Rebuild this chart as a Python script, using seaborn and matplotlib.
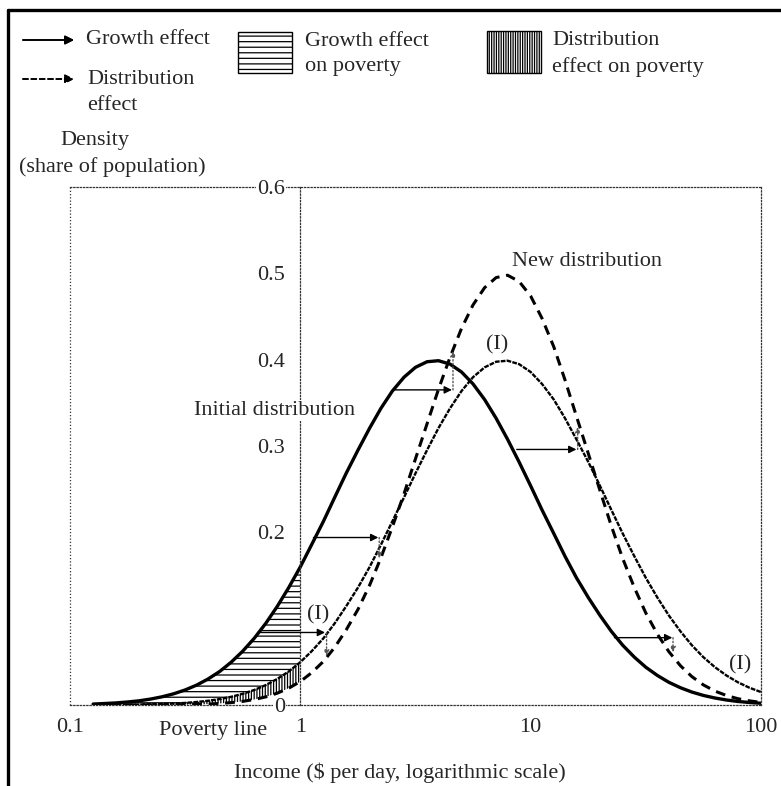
"""
Growth and distribution effects on poverty
Recreated density chart with seaborn / matplotlib
"""

import pandas as pd
import matplotlib.pyplot as plt
import seaborn as sns
from matplotlib.patches import Rectangle
from matplotlib.lines import Line2D

# Set style
sns.set_style("white")
plt.rcParams['font.family'] = ['Liberation Serif', 'DejaVu Serif']
plt.rcParams['font.size'] = 16
plt.rcParams['hatch.linewidth'] = 0.9

W, H = 781, 786

# Income ($ per day)
income = [0.126, 0.141, 0.158, 0.178, 0.2, 0.224, 0.251, 0.282, 0.316, 0.355,
          0.398, 0.447, 0.501, 0.562, 0.631, 0.708, 0.794, 0.891, 1.0,
          1.12, 1.26, 1.41, 1.58, 1.78, 2.0, 2.24, 2.51, 2.82, 3.16,
          3.55, 3.98, 4.47, 5.01, 5.62, 6.31, 7.08, 7.94, 8.91, 10.0,
          11.2, 12.6, 14.1, 15.8, 17.8, 20.0, 22.4, 25.1, 28.2, 31.6,
          35.5, 39.8, 44.7, 50.1, 56.2, 63.1, 70.8, 79.4, 89.1, 100.0]

# Initial distribution (solid)
initial = [0.0011, 0.0017, 0.0024, 0.0035, 0.0049, 0.0069, 0.0095, 0.0130, 0.0174, 0.0231,
           0.0302, 0.0389, 0.0496, 0.0623, 0.0773, 0.0946, 0.1142, 0.1361, 0.1600,
           0.1858, 0.2128, 0.2405, 0.2682, 0.2953, 0.3208, 0.3438, 0.3637, 0.3797, 0.3911,
           0.3976, 0.3988, 0.3948, 0.3857, 0.3719, 0.3538, 0.3321, 0.3077, 0.2814, 0.2538,
           0.2260, 0.1986, 0.1722, 0.1474, 0.1244, 0.1037, 0.0853, 0.0692, 0.0554, 0.0438,
           0.0342, 0.0263, 0.0200, 0.0150, 0.0111, 0.0081, 0.0058, 0.0041, 0.0029, 0.0020]

# Growth only, distribution unchanged: curve (I)
growth_only = [0.0001, 0.0001, 0.0002, 0.0003, 0.0005, 0.0008, 0.0011, 0.0017, 0.0024, 0.0035,
               0.0049, 0.0069, 0.0095, 0.0130, 0.0174, 0.0231, 0.0302, 0.0389, 0.0496,
               0.0623, 0.0773, 0.0946, 0.1142, 0.1361, 0.1600, 0.1858, 0.2128, 0.2405, 0.2682,
               0.2953, 0.3208, 0.3438, 0.3637, 0.3797, 0.3911, 0.3976, 0.3988, 0.3948, 0.3857,
               0.3719, 0.3538, 0.3321, 0.3077, 0.2814, 0.2538, 0.2260, 0.1986, 0.1722, 0.1474,
               0.1244, 0.1037, 0.0853, 0.0692, 0.0554, 0.0438, 0.0342, 0.0263, 0.0200, 0.0150]

# New distribution (dashed)
new_dist = [0.0000, 0.0000, 0.0000, 0.0000, 0.0000, 0.0001, 0.0001, 0.0002, 0.0004, 0.0007,
            0.0011, 0.0018, 0.0028, 0.0042, 0.0064, 0.0094, 0.0137, 0.0195, 0.0272,
            0.0374, 0.0505, 0.0668, 0.0868, 0.1108, 0.1389, 0.1708, 0.2064, 0.2447, 0.2850,
            0.3258, 0.3658, 0.4031, 0.4362, 0.4634, 0.4834, 0.4951, 0.4978, 0.4906, 0.4737,
            0.4479, 0.4149, 0.3764, 0.3345, 0.2911, 0.2483, 0.2073, 0.1696, 0.1359, 0.1067,
            0.0820, 0.0618, 0.0455, 0.0329, 0.0233, 0.0161, 0.0110, 0.0073, 0.0048, 0.0030]

poverty_line = 1.0

# Growth effect arrows: start income, end income, density
growth_start = [1.14, 2.58, 8.7, 0.652, 23.1]
growth_end = [2.18, 4.55, 15.8, 1.28, 41.2]
growth_y = [0.194, 0.365, 0.296, 0.084, 0.078]

# Distribution effect arrows: income, from density, to density
dist_x = [2.2, 4.6, 16.0, 1.3, 41.5]
dist_from = [0.194, 0.365, 0.296, 0.084, 0.078]
dist_to = [0.170, 0.410, 0.322, 0.057, 0.061]

y_ticks = [0, 0.2, 0.3, 0.4, 0.5, 0.6]
y_tick_labels = ['0', '0.2', '0.3', '0.4', '0.5', '0.6']
x_ticks = [0.1, 1, 10, 100]
x_tick_labels = ['0.1', '1', '10', '100']

df = pd.DataFrame({'income': income, 'initial': initial,
                   'growth_only': growth_only, 'new_dist': new_dist})
poor = df[df['income'] <= poverty_line]


def fx(px):
    return px / W


def fy(py):
    return 1 - py / H


fig = plt.figure(figsize=(W / 100, H / 100), dpi=100)
ax = fig.add_axes([fx(70), fy(705), (761 - 70) / W, (705 - 187) / H])

DOT = (0, (1, 1.6))

# hatched poverty areas
ax.fill_between(poor['income'], poor['growth_only'], poor['initial'],
                facecolor='none', edgecolor='black', hatch='---', lw=0, zorder=1)
ax.fill_between(poor['income'], poor['new_dist'], poor['growth_only'],
                facecolor='none', edgecolor='black', hatch='||||||', lw=0, zorder=1)

# curves
sns.lineplot(data=df, x='income', y='initial', ax=ax, color='black', lw=2.4)
sns.lineplot(data=df, x='income', y='growth_only', ax=ax, color='black', lw=1.7,
             linestyle=(0, (2, 0.5)))
sns.lineplot(data=df, x='income', y='new_dist', ax=ax, color='black', lw=2.2,
             linestyle=(0, (3.2, 2.2)))

# effect arrows
for x0, x1, y in zip(growth_start, growth_end, growth_y):
    ax.annotate('', xy=(x1, y), xytext=(x0, y),
                arrowprops=dict(arrowstyle='-|>', color='black', lw=1.0,
                                mutation_scale=11, shrinkA=0, shrinkB=0))
for x, y0, y1 in zip(dist_x, dist_from, dist_to):
    ax.annotate('', xy=(x, y1), xytext=(x, y0),
                arrowprops=dict(arrowstyle='-|>', color='#555555', lw=1.0,
                                linestyle=DOT, mutation_scale=8, shrinkA=0, shrinkB=0))

ax.set_xscale('log')
ax.set_xlim(0.1, 100)
ax.set_ylim(0, 0.6)
ax.set_xticks(x_ticks)
ax.set_xticklabels(x_tick_labels)
ax.set_yticks(y_ticks)
ax.set_yticklabels(y_tick_labels)
ax.minorticks_off()
ax.tick_params(axis='both', length=0, labelsize=16)
ax.tick_params(axis='y', pad=11)
ax.tick_params(axis='x', pad=9)

# dotted frame, y axis sits on the poverty line
for side in ['top', 'right', 'bottom', 'left']:
    ax.spines[side].set_linestyle(DOT)
    ax.spines[side].set_linewidth(0.9)
    ax.spines[side].set_color('#333333')
ax.spines['left'].set_position(('data', poverty_line))
ax.axvline(0.1, color='#333333', lw=0.9, linestyle=DOT, clip_on=False)
ax.yaxis.set_zorder(3)
for lbl in ax.get_yticklabels():
    lbl.set_bbox(dict(facecolor='white', edgecolor='none', pad=1))
ax.set_ylabel('')

ax.set_xlabel('Income ($ per day, logarithmic scale)', fontsize=16)
ax.xaxis.label.set_va('center')
ax.xaxis.set_label_coords((400 - 70) / 691, -(773 - 705) / 518)

# annotations in the plot
ax.text(0.77, 0.341, 'Initial distribution', ha='center', va='center', fontsize=16,
        bbox=dict(facecolor='white', edgecolor='none', pad=0.5), zorder=4)
ax.text(8.27, 0.514, 'New distribution', ha='left', va='center', fontsize=16)
ax.text(7.13, 0.417, '(I)', ha='center', va='center', fontsize=16)
ax.text(1.20, 0.104, '(I)', ha='center', va='center', fontsize=16)
ax.text(81.1, 0.046, '(I)', ha='center', va='center', fontsize=16)
ax.text(0.416, -0.030, 'Poverty line', ha='center', va='center', fontsize=16,
        clip_on=False)

# legend block at the top
fig.add_artist(Line2D([fx(8), 1], [fy(10), fy(10)], color='black', lw=2.4))
fig.add_artist(Line2D([fx(8), fx(8)], [0, fy(10)], color='black', lw=2.4))

fig.add_artist(plt.annotate('', xy=(fx(74), fy(40)), xytext=(fx(23), fy(40)),
                            xycoords='figure fraction', textcoords='figure fraction',
                            arrowprops=dict(arrowstyle='-|>', color='black', lw=1.2,
                                            mutation_scale=13, shrinkA=0, shrinkB=0)))
fig.add_artist(plt.annotate('', xy=(fx(74), fy(79)), xytext=(fx(23), fy(79)),
                            xycoords='figure fraction', textcoords='figure fraction',
                            arrowprops=dict(arrowstyle='-|>', color='black', lw=1.2,
                                            linestyle=(0, (3, 2)), mutation_scale=13,
                                            shrinkA=0, shrinkB=0)))
fig.text(fx(86), fy(40), 'Growth effect', ha='left', va='center', fontsize=16)
fig.text(fx(87), fy(93), 'Distribution\neffect', ha='left', va='center', fontsize=16,
         linespacing=1.5)

fig.add_artist(Rectangle((fx(238), fy(73)), 54 / W, 41 / H, transform=fig.transFigure,
                         facecolor='white', edgecolor='black', lw=1.0, hatch='---'))
fig.text(fx(305), fy(54), 'Growth effect\non poverty', ha='left', va='center',
         fontsize=16, linespacing=1.5)

fig.add_artist(Rectangle((fx(487), fy(73)), 54 / W, 42 / H, transform=fig.transFigure,
                         facecolor='white', edgecolor='black', lw=1.0, hatch='|||||||'))
fig.text(fx(552), fy(54), 'Distribution\neffect on poverty', ha='left', va='center',
         fontsize=16, linespacing=1.5)

fig.text(fx(95), fy(140), 'Density', ha='center', va='center', fontsize=16)
fig.text(fx(112), fy(167), '(share of population)', ha='center', va='center', fontsize=16)

fig.savefig('out.png', dpi=100)
